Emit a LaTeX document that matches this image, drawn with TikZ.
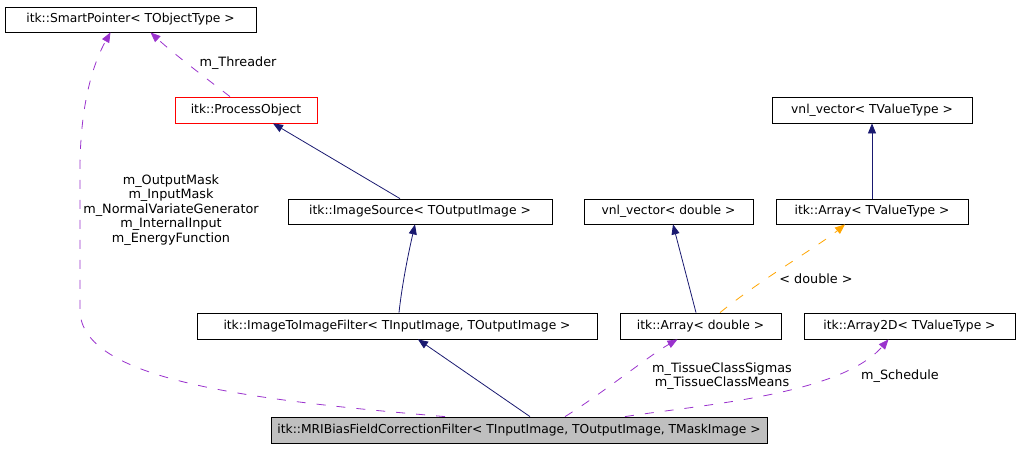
\documentclass[tikz,border=0pt]{standalone}
\usepackage{fontspec}
\setmainfont{DejaVu Sans}
\usetikzlibrary{arrows.meta}
\definecolor{navyc}{HTML}{191970}
\definecolor{purp}{HTML}{9A32CD}
\definecolor{orng}{HTML}{FFA500}
\definecolor{grayf}{HTML}{BFBFBF}
\begin{document}
\begin{tikzpicture}[x=1pt,y=-1pt,
  cls/.style={draw=black,line width=0.8pt,fill=white,inner sep=0pt,font=\fontsize{12.3}{14}\selectfont},
  inh/.style={draw=navyc,line width=0.8pt,-{Triangle[length=10pt,width=8pt]}},
  use/.style={draw=purp,line width=0.8pt,dash pattern=on 9pt off 11pt,-{Triangle[length=10pt,width=8pt]}},
  tmpl/.style={draw=orng,line width=0.8pt,dash pattern=on 9pt off 11pt,-{Triangle[length=10pt,width=8pt]}},
  lbl/.style={font=\fontsize{12.8}{14.5}\selectfont,align=center,inner sep=0pt}]
\useasboundingbox (0,0) rectangle (1020,448);
\node[cls,minimum width=251pt,minimum height=25pt] (sp) at (130.5,19.5) {itk::SmartPointer< TObjectType >};
\node[cls,draw=red,minimum width=142pt,minimum height=26pt] (po) at (246,110) {itk::ProcessObject};
\node[cls,minimum width=200pt,minimum height=26pt] (vt) at (872,110) {vnl\_vector< TValueType >};
\node[cls,minimum width=264pt,minimum height=25pt] (is) at (420,211.5) {itk::ImageSource< TOutputImage >};
\node[cls,minimum width=169pt,minimum height=25pt] (vd) at (668.5,211.5) {vnl\_vector< double >};
\node[cls,minimum width=192pt,minimum height=25pt] (at) at (872,211.5) {itk::Array< TValueType >};
\node[cls,minimum width=400pt,minimum height=26pt] (itf) at (397,326) {itk::ImageToImageFilter< TInputImage, TOutputImage >};
\node[cls,minimum width=161pt,minimum height=26pt] (ad) at (700.5,326) {itk::Array< double >};
\node[cls,minimum width=211pt,minimum height=26pt] (a2) at (909.5,326) {itk::Array2D< TValueType >};
\node[cls,fill=grayf,minimum width=496pt,minimum height=26pt] (mri) at (519,430) {itk::MRIBiasFieldCorrectionFilter< TInputImage, TOutputImage, TMaskImage >};
% edges
\draw[use] ([xshift=-16pt]po.north) .. controls (215,85) and (175,55) .. ([xshift=20pt]sp.south);
\node[lbl] (l1) at (238,63) {m\_Threader};
\draw[use] ([xshift=-74pt]mri.north) .. controls (250,400) and (80,380) .. (80,310) -- (80,170) .. controls (80,100) and (95,60) .. ([xshift=-20pt]sp.south);
\node[lbl] (l2) at (171,210) {m\_OutputMask\\m\_InputMask\\m\_NormalVariateGenerator\\m\_InternalInput\\m\_EnergyFunction};
\draw[inh] ([xshift=-20pt]is.north) -- ([xshift=27pt]po.south);
\draw[inh] ([xshift=2pt]itf.north) .. controls (402,285) and (408,255) .. ([xshift=-5pt]is.south);
\draw[inh] ([xshift=11pt]mri.north) -- ([xshift=21pt]itf.south);
\draw[inh] (at.north) -- (vt.south);
\draw[inh] ([xshift=-4.5pt]ad.north) -- ([xshift=4.5pt]vd.south);
\draw[tmpl] ([xshift=19.5pt]ad.north) .. controls (760,280) and (820,245) .. ([xshift=-27pt]at.south);
\node[lbl] (l3) at (816,279) {< double >};
\draw[use] ([xshift=46pt]mri.north) .. controls (600,395) and (650,355) .. ([xshift=-23pt]ad.south);
\node[lbl] (l4) at (722,376) {m\_TissueClassSigmas\\m\_TissueClassMeans};
\draw[use] ([xshift=106pt]mri.north) .. controls (700,405) and (840,395) .. ([xshift=-21pt]a2.south);
\node[lbl] (l5) at (900,376) {m\_Schedule};
\end{tikzpicture}
\end{document}
